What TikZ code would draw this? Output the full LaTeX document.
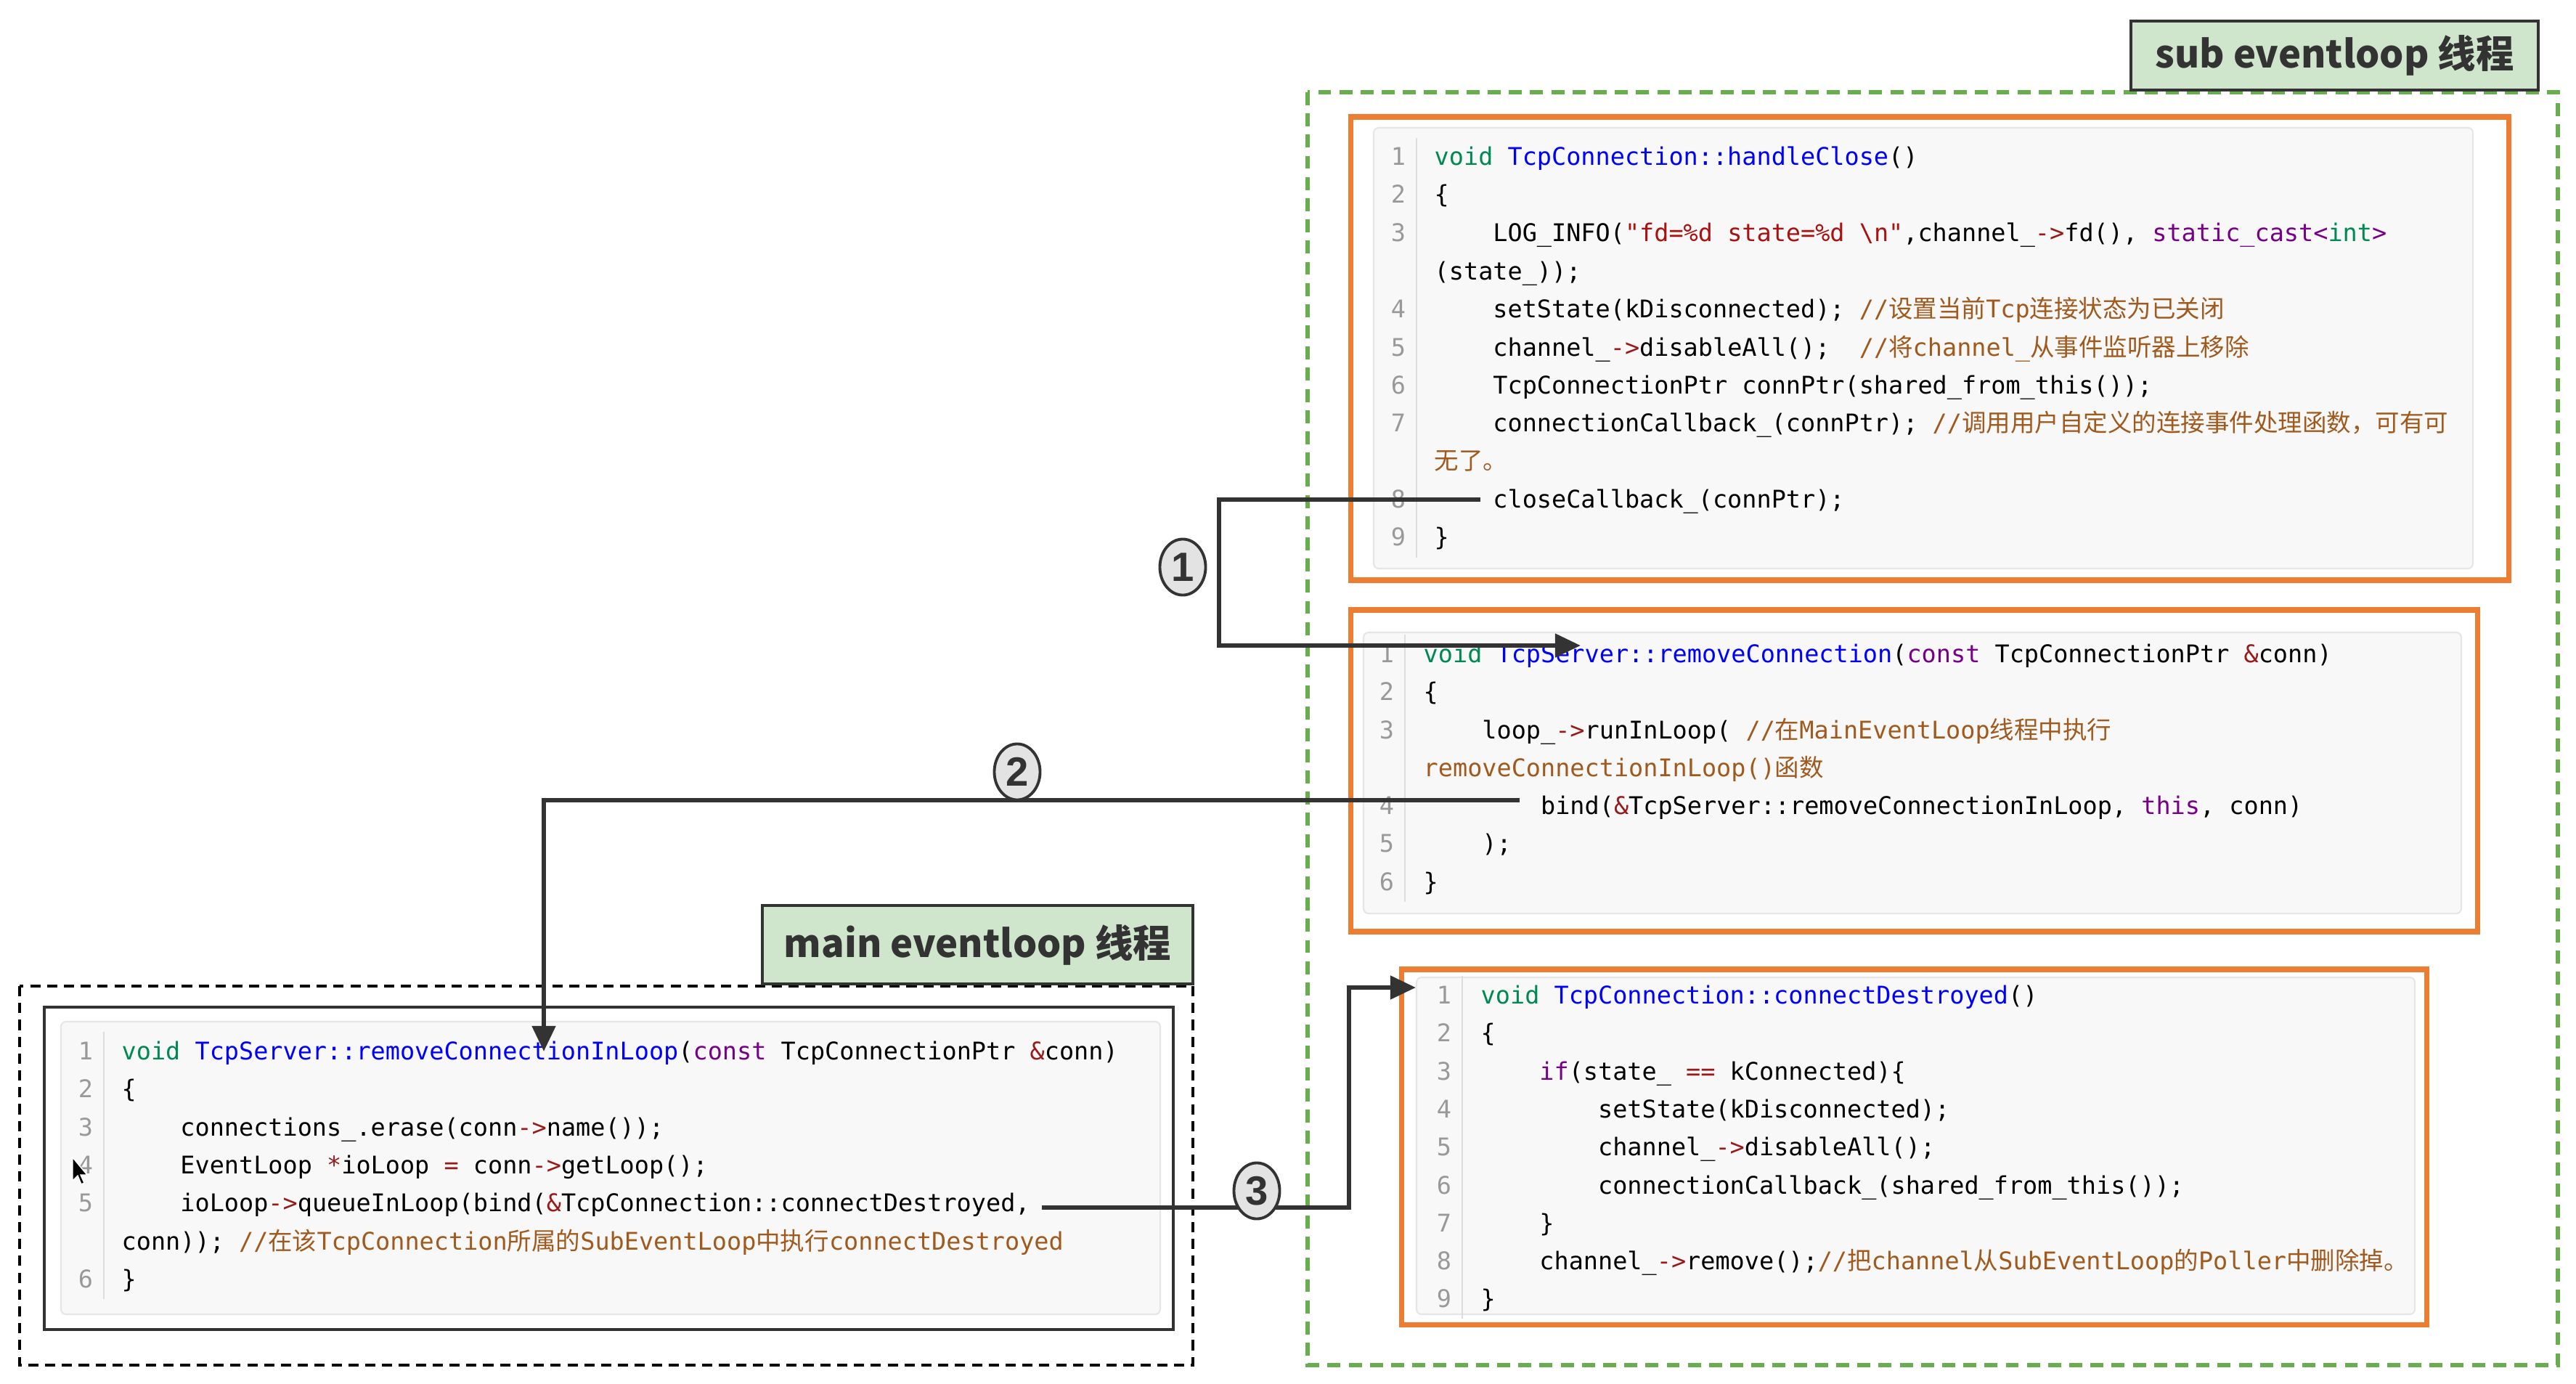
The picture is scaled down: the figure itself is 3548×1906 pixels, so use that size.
\documentclass[tikz,border=0pt]{standalone}
\usepackage{fontspec}
\usetikzlibrary{arrows.meta,shapes.geometric}
\setmonofont{DejaVu Sans Mono}
\newfontfamily\zhfont{Noto Sans CJK SC}
\newfontfamily\lblfont{Noto Sans CJK SC}
\newfontfamily\digfont{Liberation Sans}
\definecolor{orng}{HTML}{ED7D31}
\definecolor{grn}{HTML}{6AAD50}
\definecolor{lblfill}{HTML}{D0E6CC}
\definecolor{dark}{HTML}{333333}
\definecolor{panel}{HTML}{F8F8F8}
\definecolor{panelb}{HTML}{E6E6E6}
\definecolor{lnum}{HTML}{999999}
\definecolor{sepc}{HTML}{DDDDDD}
\definecolor{ckw}{HTML}{770088}
\definecolor{cty}{HTML}{008855}
\definecolor{cdf}{HTML}{0000FF}
\definecolor{cst}{HTML}{AA1111}
\definecolor{ccm}{HTML}{A05A1E}
\definecolor{cop}{HTML}{981A1A}
\definecolor{circfill}{HTML}{E3E3E3}
\newcommand\Ckw[1]{\textcolor{ckw}{#1}}
\newcommand\Cty[1]{\textcolor{cty}{#1}}
\newcommand\Cdf[1]{\textcolor{cdf}{#1}}
\newcommand\Cst[1]{\textcolor{cst}{#1}}
\newcommand\Ccm[1]{\textcolor{ccm}{#1}}
\newcommand\Cop[1]{\textcolor{cop}{#1}}
\newcommand\Zh[1]{{\zhfont #1}}
\newcommand\IndA{\phantom{0000}}
\newcommand\IndB{\phantom{00000000}}
\frenchspacing
\begin{document}
\begin{tikzpicture}[x=0.01cm,y=-0.01cm,
  codeln/.style={anchor=base west,inner sep=0pt,font=\ttfamily\fontsize{9.53pt}{12pt}\selectfont},
  lnno/.style={anchor=base,inner sep=0pt,text=lnum,font=\ttfamily\fontsize{9.53pt}{12pt}\selectfont},
  panelbox/.style={draw=panelb,fill=panel,line width=0.6pt,rounded corners=2pt},
  sepline/.style={draw=sepc,line width=0.6pt},
  orangebox/.style={draw=orng,line width=2pt},
  lbl/.style={draw=dark,fill=lblfill,line width=1.3pt,text=dark,inner sep=0pt,
    font=\lblfont\bfseries\fontsize{14.9pt}{17pt}\selectfont},
  conn/.style={draw=dark,line width=1.8pt},
  arr/.style={-{Triangle[length=10pt,width=9pt]}},
  circnum/.style={ellipse,draw=dark,fill=circfill,line width=1.1pt,inner sep=0pt,
    minimum width=0.63cm,minimum height=0.77cm,text=dark,font=\digfont\bfseries\fontsize{16pt}{16pt}\selectfont}
]
\useasboundingbox[fill=white] (0,0) rectangle (3548,1906);

% ---------- sub eventloop region ----------
\draw[grn,line width=1.9pt,dash pattern=on 5.1pt off 3.2pt] (1801,127) rectangle (3523,1880);
\node[lbl,minimum width=5.61cm,minimum height=0.95cm] (sublbl) at (3215.5,76.5) {sub eventloop 线程};

% box 1 handleClose
\draw[orangebox] (1860,161) rectangle (3455,799);
\draw[panelbox] (1892,176) rectangle (3406,783);
\draw[sepline] (1951,190) -- (1951,768);
\node[lnno] (b1n1) at (1926,228) {1};
\node[lnno] (b1n2) at (1926,280) {2};
\node[lnno] (b1n3) at (1926,333) {3};
\node[lnno] (b1n4) at (1926,437) {4};
\node[lnno] (b1n5) at (1926,490) {5};
\node[lnno] (b1n6) at (1926,542) {6};
\node[lnno] (b1n7) at (1926,594) {7};
\node[lnno] (b1n8) at (1926,699) {8};
\node[lnno] (b1n9) at (1926,751) {9};
\node[codeln] (b1c1) at (1975,228) {\Cty{void} \Cdf{TcpConnection::handleClose}()};
\node[codeln] (b1c2) at (1975,280) {\{};
\node[codeln] (b1c3) at (1975,333) {\IndA LOG\_INFO(\Cst{"fd=\%d state=\%d \textbackslash n"},channel\_\Cop{->}fd(), \Ckw{static\_cast<}\Cty{int}\Ckw{>}};
\node[codeln] (b1c3b) at (1975,385) {(state\_));};
\node[codeln] (b1c4) at (1975,437) {\IndA setState(kDisconnected); \Ccm{//\Zh{设置当前}Tcp\Zh{连接状态为已关闭}}};
\node[codeln] (b1c5) at (1975,490) {\IndA channel\_\Cop{->}disableAll();\ \ \Ccm{//\Zh{将}channel\_\Zh{从事件监听器上移除}}};
\node[codeln] (b1c6) at (1975,542) {\IndA TcpConnectionPtr connPtr(shared\_from\_this());};
\node[codeln] (b1c7) at (1975,594) {\IndA connectionCallback\_(connPtr); \Ccm{//\Zh{调用用户自定义的连接事件处理函数，可有可}}};
\node[codeln] (b1c7b) at (1975,646) {\Ccm{\Zh{无了。}}};
\node[codeln] (b1c8) at (1975,699) {\IndA closeCallback\_(connPtr);};
\node[codeln] (b1c9) at (1975,751) {\}};

% box 2 removeConnection
\draw[orangebox] (1860,840) rectangle (3412,1283);
\draw[panelbox] (1878,871) rectangle (3390,1258);
\draw[sepline] (1935,874) -- (1935,1242);
\node[lnno] (b2n1) at (1910,912) {1};
\node[lnno] (b2n2) at (1910,964) {2};
\node[lnno] (b2n3) at (1910,1017) {3};
\node[lnno] (b2n4) at (1910,1121) {4};
\node[lnno] (b2n5) at (1910,1173) {5};
\node[lnno] (b2n6) at (1910,1226) {6};
\node[codeln] (b2c1) at (1960,912) {\Cty{void} \Cdf{TcpServer::removeConnection}(\Ckw{const} TcpConnectionPtr \Cop{\&}conn)};
\node[codeln] (b2c2) at (1960,964) {\{};
\node[codeln] (b2c3) at (1960,1017) {\IndA loop\_\Cop{->}runInLoop( \Ccm{//\Zh{在}MainEventLoop\Zh{线程中执行}}};
\node[codeln] (b2c3b) at (1960,1069) {\Ccm{removeConnectionInLoop()\Zh{函数}}};
\node[codeln] (b2c4) at (1960,1121) {\IndB bind(\Cop{\&}TcpServer::removeConnectionInLoop, \Ckw{this}, conn)};
\node[codeln] (b2c5) at (1960,1173) {\IndA );};
\node[codeln] (b2c6) at (1960,1226) {\}};

% box 3 connectDestroyed
\draw[orangebox] (1930,1335) rectangle (3342,1824);
\draw[panelbox] (1951,1346) rectangle (3326,1810);
\draw[sepline] (2014,1344) -- (2014,1816);
\node[lnno] (b3n1) at (1989,1382) {1};
\node[lnno] (b3n2) at (1989,1434) {2};
\node[lnno] (b3n3) at (1989,1487) {3};
\node[lnno] (b3n4) at (1989,1539) {4};
\node[lnno] (b3n5) at (1989,1591) {5};
\node[lnno] (b3n6) at (1989,1644) {6};
\node[lnno] (b3n7) at (1989,1696) {7};
\node[lnno] (b3n8) at (1989,1748) {8};
\node[lnno] (b3n9) at (1989,1800) {9};
\node[codeln] (b3c1) at (2039,1382) {\Cty{void} \Cdf{TcpConnection::connectDestroyed}()};
\node[codeln] (b3c2) at (2039,1434) {\{};
\node[codeln] (b3c3) at (2039,1487) {\IndA\Ckw{if}(state\_ \Cop{==} kConnected)\{};
\node[codeln] (b3c4) at (2039,1539) {\IndB setState(kDisconnected);};
\node[codeln] (b3c5) at (2039,1591) {\IndB channel\_\Cop{->}disableAll();};
\node[codeln] (b3c6) at (2039,1644) {\IndB connectionCallback\_(shared\_from\_this());};
\node[codeln] (b3c7) at (2039,1696) {\IndA\}};
\node[codeln] (b3c8) at (2039,1748) {\IndA channel\_\Cop{->}remove();\Ccm{//\Zh{把}channel\Zh{从}SubEventLoop\Zh{的}Poller\Zh{中删除掉。}}};
\node[codeln] (b3c9) at (2039,1800) {\}};

% ---------- main eventloop region ----------
\draw[black,line width=1.1pt,dash pattern=on 4pt off 2.6pt] (27,1358) rectangle (1643,1880);
\node[lbl,minimum width=5.93cm,minimum height=1.08cm] (mainlbl) at (1346.5,1301) {main eventloop 线程};
\draw[dark,line width=1.4pt] (61,1387) rectangle (1616,1831);
\draw[panelbox] (84,1407) rectangle (1598,1810);
\draw[sepline] (143,1421) -- (143,1789);
\node[lnno] (mn1) at (118,1459) {1};
\node[lnno] (mn2) at (118,1511) {2};
\node[lnno] (mn3) at (118,1564) {3};
\node[lnno] (mn4) at (118,1616) {4};
\node[lnno] (mn5) at (118,1668) {5};
\node[lnno] (mn6) at (118,1773) {6};
\node[codeln] (mc1) at (167,1459) {\Cty{void} \Cdf{TcpServer::removeConnectionInLoop}(\Ckw{const} TcpConnectionPtr \Cop{\&}conn)};
\node[codeln] (mc2) at (167,1511) {\{};
\node[codeln] (mc3) at (167,1564) {\IndA connections\_.erase(conn\Cop{->}name());};
\node[codeln] (mc4) at (167,1616) {\IndA EventLoop \Cop{*}ioLoop \Cop{=} conn\Cop{->}getLoop();};
\node[codeln] (mc5) at (167,1668) {\IndA ioLoop\Cop{->}queueInLoop(bind(\Cop{\&}TcpConnection::connectDestroyed,};
\node[codeln] (mc5b) at (167,1721) {conn)); \Ccm{//\Zh{在该}TcpConnection\Zh{所属的}SubEventLoop\Zh{中执行}connectDestroyed}};
\node[codeln] (mc6) at (167,1773) {\}};
% mouse cursor
\draw[fill=black,draw=white,line width=0.4pt] (100,1594) -- (100,1626) -- (107,1619) -- (112,1631) -- (116,1629) -- (111,1618) -- (120,1618) -- cycle;

% ---------- connectors ----------
\coordinate (c1s) at (2039,688);
\coordinate (c1k) at (1679,688);
\coordinate (c1e) at (2177,889);
\draw[conn,arr] (c1s) -- (c1k) |- (c1e);
\coordinate (c2s) at (2093,1102);
\coordinate (c2e) at (749,1448);
\draw[conn,arr] (c2s) -| (c2e);
\coordinate (c3s) at (1435,1663);
\coordinate (c3k) at (1858,1663);
\coordinate (c3e) at (1950,1360);
\draw[conn,arr] (c3s) -- (c3k) |- (c3e);
\node[circnum] (k1) at (1629,781) {1};
\node[circnum] (k2) at (1401,1063) {2};
\node[circnum] (k3) at (1731,1640) {3};
\end{tikzpicture}
\end{document}
